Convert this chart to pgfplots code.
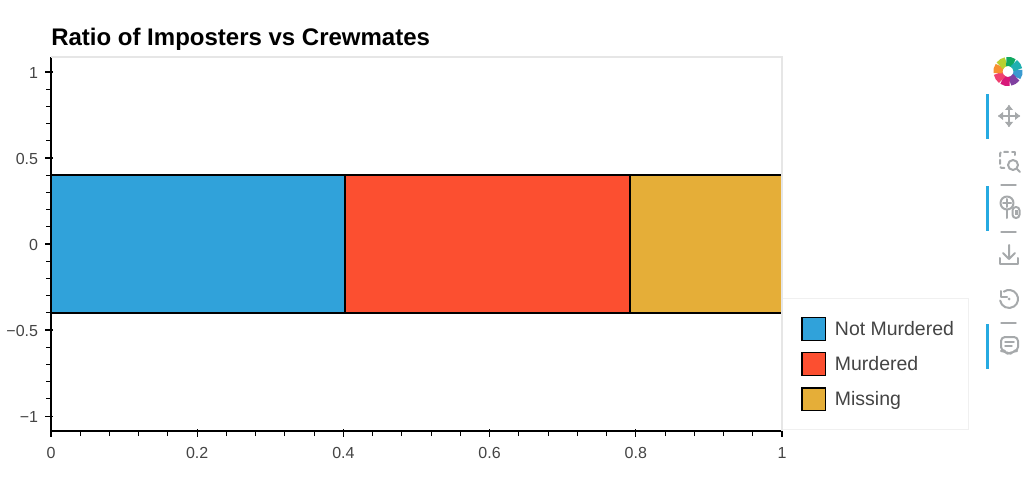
\documentclass[border=0pt]{standalone}
\usepackage{fontspec}
\setmainfont{Liberation Sans}
\usepackage{pgfplots}
\pgfplotsset{compat=1.18}
\definecolor{cblue}{HTML}{30A2DA}
\definecolor{cred}{HTML}{FC4F30}
\definecolor{cyel}{HTML}{E5AE38}
\definecolor{txt}{HTML}{444444}
\definecolor{spine}{HTML}{E6E6E6}
\definecolor{tool}{HTML}{A6A9AB}
\definecolor{tbar}{HTML}{26AAE1}
\begin{document}
\begin{tikzpicture}[x=1pt,y=1pt]
\path[use as bounding box,fill=white] (0,0) rectangle (775.5pt,359.25pt);
\begin{axis}[
  at={(38.25pt,36pt)},anchor=south west,
  scale only axis,width=548.25pt,height=280.5pt,
  xmin=0,xmax=1,ymin=-1.087,ymax=1.087,
  xbar stacked,bar width=103.2pt,
  axis x line=bottom, axis y line=left,
  axis line style={-,black,line width=1.1pt},
  xtick={0,0.2,0.4,0.6,0.8,1},xticklabels={0,0.2,0.4,0.6,0.8,1},
  ytick={-1,-0.5,0,0.5,1},yticklabels={−1,−0.5,0,0.5,1},
  minor x tick num=4,minor y tick num=4,
  tick align=outside,
  tick style={black,line width=0.8pt},
  major tick length=6pt,minor tick length=3.75pt,
  major x tick style={yshift=1.8pt},
  major y tick style={xshift=1.8pt},
  every tick label/.append style={font=\fontsize{12pt}{14pt}\selectfont,text=txt},
  xticklabel style={yshift=-2.6pt},
  yticklabel style={xshift=-0.2pt,yshift=-0.4pt},
  title style={at={(0,1)},anchor=south west,yshift=-3pt,inner sep=2pt,inner xsep=0pt,font=\bfseries\fontsize{18pt}{21pt}\selectfont},
  title={Ratio of Imposters vs Crewmates},
  legend style={at={(1,0.0027)},anchor=south west,draw=spine!60,line width=0.6pt,fill=white,
    inner xsep=11pt,inner ysep=13.6pt,row sep=8pt,
    nodes={inner sep=0pt,text=txt,font=\fontsize{14.6pt}{17pt}\selectfont},
    column sep=6.5pt,cells={anchor=west}},
  legend cell align=left,
  legend image code/.code={\path[draw=none,fill=none] (-3.75pt,0)--(0,0);\draw[#1,line width=1.1pt] (0,-8.6pt) rectangle (17.6pt,8.6pt);},
  clip=false,
]
\addplot[fill=cblue,draw=black,line width=1.15pt] coordinates {(0.4022,0)};
\addlegendentry{Not Murdered}
\addplot[fill=cred,draw=black,line width=1.15pt] coordinates {(0.3898,0)};
\addlegendentry{Murdered}
\addplot[fill=cyel,draw=black,line width=1.15pt] coordinates {(0.208,0)};
\addlegendentry{Missing}
\end{axis}
\begin{scope}[x=0.75pt,y=-0.75pt,shift={(0pt,359.25pt)}]
\draw[spine,line width=0.9pt] (51,57)--(782,57)--(782,431);
% toolbar side bars
\fill[tbar] (986,94) rectangle (989,139);
\fill[tbar] (986,186) rectangle (989,231);
\fill[tbar] (986,324) rectangle (989,369);
% logo
\foreach \a/\c in {0/3A9AD0,45/8040A0,90/D8187A,135/F04070,180/F79030,225/B8D030,270/10A860,315/20B0B0}{
  \definecolor{lc}{HTML}{\c}
  \draw[lc,line width=6.8pt] ({1008+10*cos(\a-10)},{71.5+10*sin(\a-10)}) arc[start angle=\a-10,end angle=\a+35,radius=10];
}
\begin{scope}[tool,line width=1.5pt,line cap=round,line join=round]
% pan
\draw (1009,106)--(1009,126) (999,116)--(1019,116);
\fill (1009,105)--(1005,110)--(1013,110)--cycle (1009,127)--(1005,122)--(1013,122)--cycle
 (998,116)--(1003,112)--(1003,120)--cycle (1020,116)--(1015,112)--(1015,120)--cycle;
% box zoom
\draw[dash pattern=on 3pt off 2.6pt,rounded corners=1.5pt] (1008,152)--(1000,152)--(1000,168)--(1006,168);
\draw (1012,152)--(1015,152)--(1015,155);
\draw (1013,165) circle[radius=5];
\draw (1017,169)--(1020,172);
\draw[line width=1pt] (1001,185)--(1016,185) (1001,232)--(1016,232) (1001,323)--(1016,323);
% wheel zoom
\draw (1007,203) circle[radius=6.5];
\draw (1007,199)--(1007,207) (1003,203)--(1011,203) (1007,210)--(1007,218);
\draw[rounded corners=2.5pt] (1012.5,207) rectangle (1019.5,218);
\fill (1014.5,210) rectangle (1017.5,215);
% save
\draw (1009,245)--(1009,259) (1003,253)--(1009,259)--(1015,253);
\draw (1000,258)--(1000,264)--(1018,264)--(1018,258);
% reset
\draw ({1009+9*cos(235)},{299+9*sin(235)}) arc[start angle=235,end angle=530,radius=9];
\draw (1001,291)--(1001,297)--(1007,297);
\fill (1009,299) circle[radius=1.5];
% hover
\draw[rounded corners=3pt] (1001,337)--(1018,337)--(1018,351)--(1013,351)--(1009,355)--(1005,351)--(1001,351)--cycle;
\draw[line width=1.1pt] (1005,342)--(1014,342) (1005,346)--(1012,346);
\end{scope}
\end{scope}
\end{tikzpicture}
\end{document}
